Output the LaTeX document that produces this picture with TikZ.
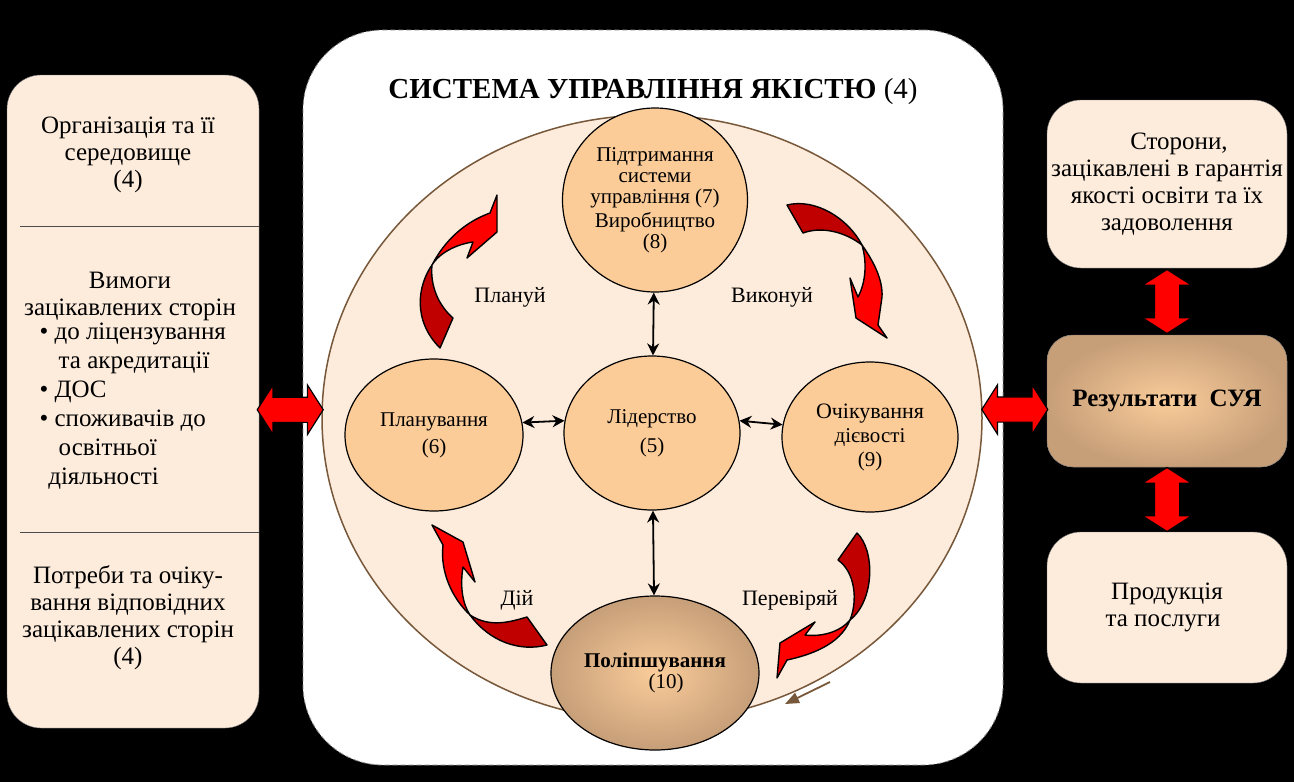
\documentclass[tikz,border=0pt]{standalone}
\usepackage{fontspec}
\setmainfont{Liberation Serif}
\usetikzlibrary{arrows.meta,positioning,shapes.geometric,shapes.arrows,calc}
\definecolor{peach}{RGB}{253,235,220}
\definecolor{circfill}{RGB}{251,203,152}
\definecolor{tanlight}{RGB}{250,204,154}
\definecolor{tandark}{RGB}{198,158,120}
\definecolor{rimbrown}{RGB}{120,88,58}
\definecolor{arrred}{RGB}{255,0,0}
\definecolor{arrdark}{RGB}{192,0,0}
\tikzset{
    box text/.style={font=\fontsize{25}{27}\selectfont,align=center},
    side box/.style={draw=black!55,fill=peach,rounded corners=34pt,thin,inner sep=0pt},
    stage/.style={ellipse,draw=black,line width=1.2pt,fill=circfill,inner sep=0pt,align=center,font=\fontsize{21}{21}\selectfont},
    shaded stage/.style={stage,shading=radial,inner color=tanlight,outer color=tandark},
    biarr/.style={<->,>={Stealth[length=12pt,width=12pt]},line width=1.8pt},
    block arrow/.style={double arrow,draw=black,line width=1.2pt,fill=arrred,inner sep=12pt,
        double arrow head extend=12pt,double arrow tip angle=115,minimum height=#1},
    twist light/.style={fill=arrred,draw=black,line width=1.4pt,line join=round},
    twist dark/.style={fill=arrdark,draw=black,line width=1.4pt,line join=round},
    cycle label/.style={font=\fontsize{22}{22}\selectfont},
    rim arrow/.style={-{Triangle[length=14pt,width=11pt]},draw=rimbrown,fill=rimbrown,line width=1.8pt},
}

\begin{document}
\begin{tikzpicture}[x=1pt,y=-1pt]
    \fill[black] (0,0) rectangle (1294,782);
    \useasboundingbox (0,0) rectangle (1294,782);

    % left column
    \node[side box,minimum width=252pt,minimum height=653pt] (org) at (133,401.5) {};
    \draw[black!70,thick] (20,226) -- (259,226);
    \draw[black!70,thick] (20,532) -- (259,532);
    \node[box text] (orgtxt) at (128,155) {Організація та її\\середовище\\(4)};
    \node[box text] (reqtxt) at (130,296) {Вимоги\\зацікавлених сторін};
    \node[box text,align=left,anchor=north west,font=\fontsize{25}{29}\selectfont] (reqlist) at (36,319)
        {\textbullet\ до ліцензування\\\hphantom{\textbullet\ }\,та акредитації\\\textbullet\ ДОС\\
         \textbullet\ споживачів до\\\hphantom{\textbullet\ }\,освітньої\\\hphantom{\textbullet}діяльності};
    \node[box text] (needtxt) at (128,618) {Потреби та очіку-\\вання відповідних\\зацікавлених сторін\\(4)};

    % quality management system
    \node[draw=black!45,thick,dash pattern=on 5pt off 3pt,fill=white,rounded corners=80pt,
        minimum width=700pt,minimum height=735pt] (qms) at (653,397.5) {};
    \node[font=\fontsize{29}{32}\selectfont] (qmstitle) at (653,92) {\textbf{СИСТЕМА УПРАВЛІННЯ ЯКІСТЮ} (4)};
    \node[ellipse,draw=rimbrown,line width=1.5pt,fill=peach,inner sep=0pt,
        minimum width=660pt,minimum height=606pt] (pdca) at (652,418) {};

    \node[stage,minimum width=185pt,minimum height=184pt] (support) at (655,200)
        {Підтримання\\системи\\управління (7)\\[3pt]Виробництво\\(8)};
    \node[stage,minimum width=176pt,minimum height=154pt] (lead) at (652,433) {Лідерство\\[8pt](5)};
    \node[stage,minimum width=178pt,minimum height=152pt] (plan) at (434,435) {Планування\\[6pt](6)};
    \node[stage,minimum width=176pt,minimum height=150pt] (perf) at (870,437)
        {\fontsize{22}{21}\selectfont Очікування\\[3pt]дієвості\\[3pt](9)};
    \node[shaded stage,minimum width=208pt,minimum height=154pt] (improve) at (655,673)
        {\textbf{Поліпшування}\\\hspace*{22pt}(10)};

    \draw[biarr] (support) -- (lead);
    \draw[biarr] (plan.8) -- (lead.172);
    \draw[biarr] (lead.8) -- (perf.172);
    \draw[biarr] (lead) -- (improve);

    \node[cycle label] (planlbl) at (510,297) {Плануй};
    \node[cycle label] (dolbl) at (772,297) {Виконуй};
    \node[cycle label] (actlbl) at (517,600) {Дій};
    \node[cycle label] (checklbl) at (790,600) {Перевіряй};

    % twisted arrows
    \draw[twist light] (432,265) .. controls (445,240) and (465,222) .. (490,213) -- (497,195) -- (497,232)
        -- (467,258) -- (473,242) .. controls (458,244) and (440,252) .. (432,265) -- cycle;
    \draw[twist dark] (432,265) .. controls (418,285) and (412,320) .. (440,348) -- (453,318)
        .. controls (438,305) and (430,285) .. (432,265) -- cycle;

    \draw[twist dark] (787,205) .. controls (815,198) and (848,218) .. (862,245)
        .. controls (845,232) and (822,226) .. (803,233) -- cycle;
    \draw[twist light] (862,245) .. controls (874,262) and (883,280) .. (882,297) -- (878,325) -- (887,338)
        -- (856,318) -- (850,278) -- (858,297) .. controls (866,282) and (867,262) .. (862,245) -- cycle;

    \draw[twist light] (470,615) .. controls (452,598) and (440,572) .. (443,545) -- (432,525) -- (463,542)
        -- (475,582) -- (463,567) .. controls (460,585) and (462,603) .. (470,615) -- cycle;
    \draw[twist dark] (470,615) .. controls (490,628) and (510,622) .. (527,617) -- (547,645)
        .. controls (520,652) and (490,642) .. (470,615) -- cycle;

    \draw[twist dark] (857,533) .. controls (875,550) and (875,600) .. (850,620)
        .. controls (858,600) and (855,572) .. (838,560) -- cycle;
    \draw[twist light] (850,620) .. controls (840,632) and (822,637) .. (805,635) -- (815,622) -- (780,643)
        -- (777,678) -- (787,660) .. controls (810,655) and (840,645) .. (850,620) -- cycle;

    \coordinate (rimA) at (830,682);
    \coordinate (rimB) at (785,704);
    \draw[rim arrow] (rimA) -- (rimB);

    % right column
    \node[side box,box text,minimum width=240pt,minimum height=168pt] (parties) at (1167,184)
        {\hspace*{24pt}Сторони,\\зацікавлені в гарантія\\якості освіти та їх\\задоволення};
    \node[side box,font=\fontsize{25}{27}\selectfont,shading=radial,inner color=tanlight,outer color=tandark,
        rounded corners=26pt,minimum width=240pt,minimum height=132pt] (results) at (1167,401)
        {\textbf{Результати\ \ СУЯ}};
    \node[side box,box text,minimum width=240pt,minimum height=151pt] (products) at (1167,607.5)
        {Продукція\\та послуги\hspace*{8pt}};

    % links between blocks
    \node[block arrow=66pt] (arrL) at ($(org.east)!0.5!(pdca.west)$) {};
    \node[block arrow=66pt] (arrR) at ($(pdca.east)!0.5!(results.west)$) {};
    \node[block arrow=64pt,rotate=90] (arrU) at ($(parties.south)!0.5!(results.north)$) {};
    \node[block arrow=64pt,rotate=90] (arrD) at ($(results.south)!0.5!(products.north)$) {};
\end{tikzpicture}
\end{document}
